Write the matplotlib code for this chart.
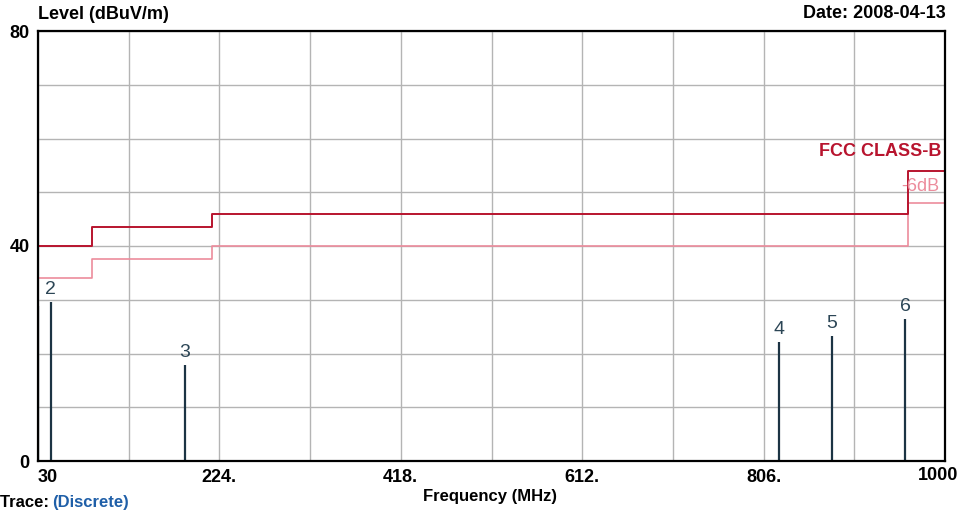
import matplotlib
matplotlib.use("Agg")
import matplotlib.pyplot as plt
import numpy as np

plt.rcParams['font.family'] = ['Liberation Sans', 'DejaVu Sans']

# limit lines (FCC class B and the -6 dB margin)
limit_freq = [30, 88, 216, 960, 1000]
fcc_level = [40, 43.5, 46, 54, 54]
margin_level = [34, 37.5, 40, 48, 48]

# measured peaks
peak_freq = [30, 43.6, 187.2, 822.8, 878.9, 957.6]
peak_level = [28.8, 29.6, 17.9, 22.2, 23.3, 26.4]
peak_label = ["", "2", "3", "4", "5", "6"]

xtick_pos = [30, 224, 418, 612, 806, 1000]
xtick_txt = ["30", "224.", "418.", "612.", "806.", "1000"]
ytick_pos = [0, 40, 80]

fig = plt.figure(figsize=(9.63, 5.12), dpi=100)
ax = fig.add_axes([38 / 963, 51 / 512, 907 / 963, 430 / 512])
ax.set_xlim(30, 1000)
ax.set_ylim(0, 80)

# grid
for gx in np.arange(30, 1001, 97):
    ax.axvline(gx, color='#b4b4b4', lw=1, zorder=0)
for gy in range(0, 81, 10):
    ax.axhline(gy, color='#b4b4b4', lw=1, zorder=0)

ax.plot(limit_freq, fcc_level, drawstyle='steps-post', color='#b8142e', lw=1.4, zorder=3)
ax.plot(limit_freq, margin_level, drawstyle='steps-post', color='#ec8c9c', lw=1.2, zorder=2)

ax.vlines(peak_freq, 0, peak_level, color='#1c3444', lw=1.6, zorder=4)
for f, v, t in zip(peak_freq, peak_level, peak_label):
    if t:
        ax.annotate(t, (f, v), xytext=(0, 9), textcoords='offset points',
                    ha='center', va='center', fontsize=14, color='#2c4656')

ax.text(0.9965, 54 + 3.5, "FCC CLASS-B", transform=ax.get_yaxis_transform(),
        ha='right', va='center', fontsize=13, fontweight='bold', color='#b8142e')
ax.text(0.9935, 48 + 3.1, "-6dB", transform=ax.get_yaxis_transform(),
        ha='right', va='center', fontsize=13, color='#ec8c9c')

# last x label sits a bit left of its tick, as in the original
ax.set_xticks(xtick_pos)
ax.set_xticklabels(xtick_txt[:-1] + [""], fontsize=13, fontweight='bold')
ax.get_xticklabels()[0].set_ha('left')
ax.annotate(xtick_txt[-1], (xtick_pos[-1], 0), xytext=(-5, -4.5), textcoords='offset points',
            ha='center', va='top', fontsize=13, fontweight='bold', annotation_clip=False)
ax.set_yticks(ytick_pos)
ax.set_yticklabels([str(v) for v in ytick_pos], fontsize=13, fontweight='bold')
ax.tick_params(length=0, pad=6)
for s in ax.spines.values():
    s.set_color('black')
    s.set_linewidth(1.6)
    s.set_zorder(5)

fig.text(38 / 963, 1 - 19 / 512, "Level (dBuV/m)", ha='left', va='baseline',
         fontsize=13, fontweight='bold')
fig.text(946 / 963, 1 - 18 / 512, "Date: 2008-04-13", ha='right', va='baseline',
         fontsize=13, fontweight='bold')
fig.text(490 / 963, 1 - 496 / 512, "Frequency (MHz)", ha='center', va='center',
         fontsize=12, fontweight='bold')
fig.text(0, 1 - 507 / 512, "Trace: ", ha='left', va='baseline', fontsize=12, fontweight='bold')
fig.text(52 / 963, 1 - 507 / 512, "(Discrete)", ha='left', va='baseline', fontsize=12,
         fontweight='bold', color='#1f5fa8')

fig.savefig("out.png", dpi=100)
